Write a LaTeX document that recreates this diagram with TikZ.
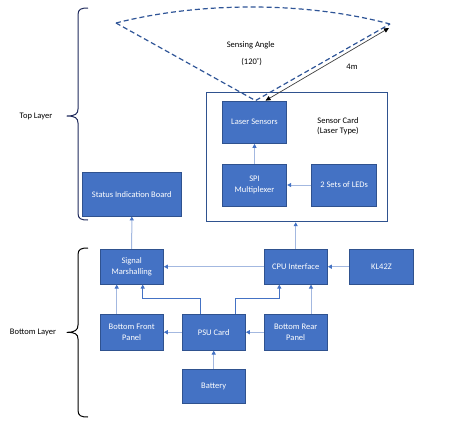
\documentclass[tikz,border=0pt]{standalone}
\usepackage{fontspec}
\setmainfont{Carlito}
\usetikzlibrary{arrows.meta}
\definecolor{boxfill}{HTML}{4472C4}
\definecolor{boxline}{HTML}{2F528F}
\definecolor{lightline}{HTML}{A3B8E0}
\definecolor{dashcol}{HTML}{2F5597}
\definecolor{navy}{HTML}{1F2A5C}
\begin{document}
\begin{tikzpicture}[x=1pt,y=-1pt,
  every node/.style={font=\fontsize{8.5}{10.5}\selectfont},
  blockbox/.style={draw=boxline, fill=boxfill, text=white, align=center, inner sep=0pt, line width=0.9pt,
    minimum width=63.3pt, minimum height=34.7pt},
  lightarrow/.style={draw=lightline, line width=1pt, -{Triangle[length=4pt,width=4pt,color=boxfill]}},
  elbowarrow/.style={draw=boxfill, line width=1pt, -{Triangle[length=4pt,width=4pt,color=boxfill]}},
  dashline/.style={draw=dashcol, line width=1.2pt, dash pattern=on 5pt off 3pt},
  bracepath/.style={line width=1pt, line join=round}
]
\useasboundingbox (0,0) rectangle (463,432);

% sensor card container
\node[draw=boxline, line width=1pt, minimum width=180.6pt, minimum height=129pt, inner sep=0pt] (card) at (297,157.2) {};
\node (cardlabel) at (338,126) [align=center] {Sensor Card\\(Laser Type)};

% top layer blocks
\node[blockbox, minimum width=64.4pt, minimum height=42.3pt] (laser) at (254.5,122.2) {Laser Sensors};
\node[blockbox, minimum width=64.4pt, minimum height=42pt] (spi) at (254.5,185) {SPI\\Multiplexer};
\node[blockbox, minimum width=65pt, minimum height=42pt] (leds) at (344.2,185) {2 Sets of LEDs};
\node[blockbox, minimum width=98.3pt, minimum height=43.3pt] (status) at (131.8,194.3) {Status Indication Board};

% bottom layer blocks
\node[blockbox] (sm) at (131.7,266.7) {Signal\\Marshalling};
\node[blockbox] (cpu) at (295.7,266.7) {CPU Interface};
\node[blockbox, minimum width=64.4pt] (kl) at (381.5,266.7) {KL42Z};
\node[blockbox, minimum height=35.7pt] (bfp) at (131.7,332.2) {Bottom Front\\Panel};
\node[blockbox, minimum height=35.7pt] (psu) at (213.7,332.2) {PSU Card};
\node[blockbox, minimum height=35.7pt] (brp) at (295.7,332.2) {Bottom Rear\\Panel};
\node[blockbox, minimum height=34.3pt] (bat) at (213.7,386.2) {Battery};

% connectors
\draw[lightarrow] (spi.north) -- (laser.south);
\draw[lightarrow] (leds.west) -- (spi.east);
\draw[lightarrow] (sm.north) -- (status.south);
\draw[lightarrow] (cpu.north) -- (cpu.north |- card.south);
\draw[lightarrow] (cpu.west) -- (sm.east);
\draw[lightarrow] (kl.west) -- (cpu.east);
\draw[lightarrow] ([xshift=-15pt]bfp.north) -- ([xshift=-15pt]sm.south);
\draw[lightarrow] ([xshift=15.3pt]brp.north) -- ([xshift=15.3pt]cpu.south);
\draw[lightarrow] (psu.west) -- (bfp.east);
\draw[lightarrow] (brp.west) -- (psu.east);
\draw[lightarrow] (bat.north) -- (psu.south);
\draw[elbowarrow] ([xshift=-13.4pt]psu.north) -- ++(0,-15.3) -| ([xshift=11pt]sm.south);
\draw[elbowarrow] ([xshift=21.6pt]psu.north) -- ++(0,-15) -| ([xshift=-16.4pt]cpu.south);

% sensing angle
\coordinate (L) at (116,23);
\coordinate (R) at (390,24);
\coordinate (R2) at (389,28);
\draw[dashline] (L) .. controls (200,1.5) and (306,1.5) .. (R);
\draw[dashline] (L) -- ([xshift=1pt]laser.north) -- (R);
\draw[draw=black!75, line width=0.7pt, {Triangle[length=5pt,width=4.5pt,color=black]}-{Triangle[length=5pt,width=4.5pt,color=black]}] ([xshift=11pt]laser.north) -- (R2);
\node (angle) at (250.7,45) {Sensing Angle};
\node (deg) at (251.7,62) {(120\textsuperscript{°})};
\node (dist) at (352,67) {4m};

% braces
\draw[bracepath, navy] (88,8) .. controls (81,8) and (78,9) .. (78,15) -- (78,109)
  .. controls (78,114) and (75,116) .. (67,116) .. controls (75,116) and (78,118) .. (78,123)
  -- (78,213) .. controls (78,219) and (81,220) .. (88,220);
\draw[bracepath, black] (88,248) .. controls (81,248) and (78,249) .. (78,255) -- (78,325)
  .. controls (78,330) and (75,332.3) .. (67,332.3) .. controls (75,332.3) and (78,334) .. (78,339)
  -- (78,410) .. controls (78,416) and (81,417) .. (88,417);
\node (top) at (36,116) {Top Layer};
\node (bottom) at (33,332.3) {Bottom Layer};
\end{tikzpicture}
\end{document}
